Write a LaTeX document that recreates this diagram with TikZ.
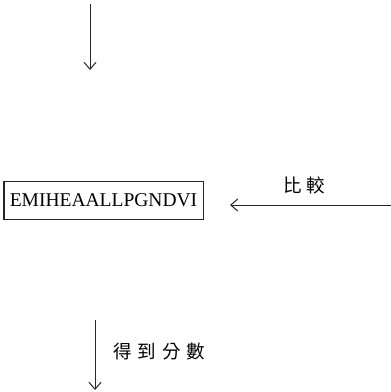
\documentclass[tikz,border=0pt]{standalone}
\usepackage{fontspec}
\usetikzlibrary{arrows.meta}
\setmainfont{Liberation Serif}
\newfontfamily\cjk{Noto Sans CJK TC}
\begin{document}
\begin{tikzpicture}[x=1pt,y=-1pt,
  conn/.style={draw=black!85, line width=1pt, -{Straight Barb[length=7pt,width=12pt]}},
  lbl/.style={font=\cjk\fontsize{18.5}{18.5}\selectfont, inner sep=0pt}]
\useasboundingbox (0,0) rectangle (391,392);
\coordinate (t0) at (90,4);
\coordinate (t1) at (90,70);
\draw[conn] (t0) -- (t1);
\node[draw=black!85, line width=1pt, minimum width=199pt, minimum height=38pt, inner sep=0pt,
  font=\fontsize{19.5}{19.5}\selectfont] (box) at (103.5,200.5) {EMIHEAALLPGNDVI};
\coordinate (r0) at (391,205);
\coordinate (r1) at (230,205);
\draw[conn] (r0) -- (r1);
\node[lbl] (cmp) at (304,185) {比\hspace{5pt}較};
\coordinate (b0) at (95,320);
\coordinate (b1) at (95,390);
\draw[conn] (b0) -- (b1);
\node[lbl, anchor=west] (score) at (113,352) {得\hspace{6pt}到\hspace{6pt}分\hspace{6pt}數};
\end{tikzpicture}
\end{document}
